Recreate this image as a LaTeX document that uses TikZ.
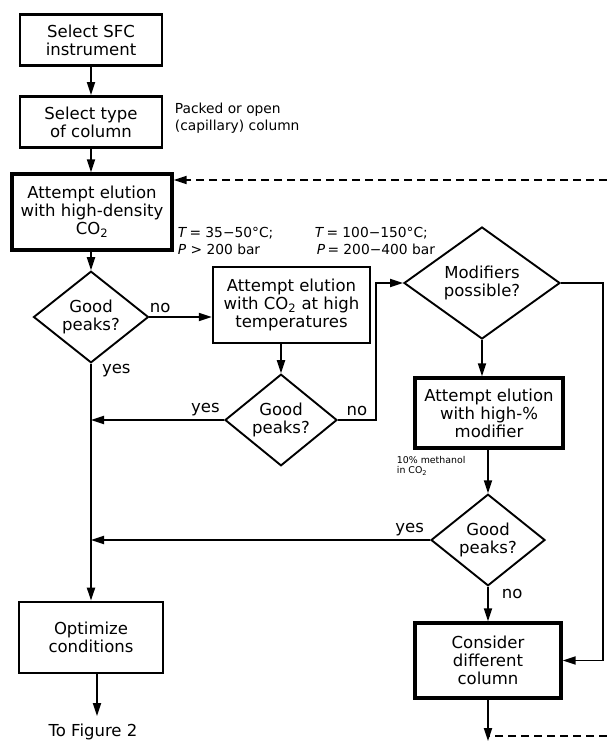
\documentclass[tikz,border=0pt]{standalone}
\usepackage{fontspec}
\setmainfont{DejaVu Sans}
\usetikzlibrary{arrows.meta,shapes.geometric}
\newcommand\boxfont{\fontsize{16.5}{18}\selectfont}
\newcommand\notefont{\fontsize{13.8}{16.5}\selectfont}
\newcommand\tinyfont{\fontsize{9.4}{10}\selectfont}
\begin{document}
\begin{tikzpicture}[x=1pt, y=-1pt, line width=1.8pt,
    >={Triangle[length=13pt,width=8pt]},
    box/.style={draw, line width=2.8pt, align=center, inner sep=1pt, font=\boxfont},
    thinbox/.style={box, line width=2.2pt},
    decision/.style={draw, diamond, line width=1.9pt, align=center, inner sep=0pt, font=\boxfont},
    note/.style={align=left, inner sep=1pt, font=\notefont},
    answer/.style={inner sep=3pt, font=\boxfont},
    loopline/.style={dash pattern=on 8pt off 5pt}]
    \useasboundingbox (0,0) rectangle (607,742);
    % left column
    \node[box, minimum width=142pt, minimum height=51pt] (A0_0) at (91,40) {Select SFC\\instrument};
    \node[box, minimum width=142pt, minimum height=51pt] (A1_0) at (91,122) {Select type\\of column};
    \node[box, line width=3.2pt, minimum width=160pt, minimum height=76pt] (A2_0) at (92,212) {Attempt elution\\with high-density\\CO\textsubscript{2}};
    \node[decision, minimum width=115pt, minimum height=80pt] (A3_0) at (91,317) {Good\\peaks?};
    \node[box, minimum width=144pt, minimum height=71pt] (A6_0) at (91,637.5) {Optimize\\conditions};
    \node[font=\boxfont, anchor=north, inner xsep=1pt, inner ysep=7pt] (A7_0) at (93,716) {To Figure 2};
    % middle column
    \node[thinbox, minimum width=157pt, minimum height=76pt] (A3_1) at (291.5,305) {Attempt elution\\with CO\textsubscript{2} at high\\temperatures};
    \node[decision, minimum width=112pt, minimum height=80pt] (A4_1) at (281,420) {Good\\peaks?};
    % right column
    \node[decision, minimum width=156pt, minimum height=112pt] (A3_2) at (482,283) {Modifiers\\possible?};
    \node[box, line width=3.2pt, minimum width=148pt, minimum height=70pt] (A4_2) at (489,413) {Attempt elution\\with high-\%\\modifier};
    \node[decision, minimum width=114pt, minimum height=80pt] (A5_2) at (488,540) {Good\\peaks?};
    \node[box, line width=3.2pt, minimum width=146pt, minimum height=75pt] (A6_2) at (488,660.5) {Consider\\different\\column};
    \coordinate (A7_2) at (488,741);
    % notes
    \node[note, anchor=west] (N1) at (173,118) {Packed or open\\(capillary) column};
    \node[note, anchor=west] (N2) at (176,241) {\textit{T}\,= 35−50°C;\\\textit{P} > 200 bar};
    \node[note, anchor=west] (N3) at (313,241) {\textit{T}\,= 100−150°C;\\\hspace{2pt}\textit{P}\,= 200−400 bar};
    \node[note, font=\tinyfont, anchor=west] (N4) at (395,466) {10\% methanol\\in CO\textsubscript{2}};
    % loop ends
    \coordinate (L0) at (607,180);
    \coordinate (L1) at (607,736);
    % connectors
    \path (A0_0) edge [->] (A1_0);
    \path (A1_0.south) edge [->] (A1_0.south |- A2_0.north);
    \path (L0) edge [->, loopline] (L0 -| A2_0.east);
    \path (A3_0.north |- A2_0.south) edge [->] (A3_0.north);
    \path (A3_0.east) edge [->] node [answer, above, pos=0.17] {no} (A3_0.east -| A3_1.west);
    \path (A3_0.south) edge [->, line width=2.1pt] node [answer, right=7pt, pos=0.03] {yes} (A6_0.north);
    \path (A4_1.north |- A3_1.south) edge [->] (A4_1.north);
    \path (A4_1.west) edge [->] node [answer, above, pos=0.14] {yes} (A4_1.west -| A3_0.south);
    \draw [->] (A4_1.east) -- ++(38,0) node [answer, above, pos=0.5] {no} |- (A3_2.west);
    \draw [->] (A3_2.east) -- ++(42,0) |- (A6_2.east);
    \path (A3_2.south) edge [->] (A3_2.south |- A4_2.north);
    \path (A5_2.north |- A4_2.south) edge [->] (A5_2.north);
    \path (A5_2.west) edge [->] node [answer, above, pos=0.06] {yes} (A5_2.west -| A3_0.south);
    \path (A5_2) edge [->] node [answer, right=10pt, pos=0.22] {no} (A6_2);
    \path (A6_2) edge [->] (A7_2);
    \path (L1) edge [loopline] (L1 -| A7_2);
    \path ([xshift=6pt]A6_0.south) edge [->] ([xshift=4pt]A7_0.north);
\end{tikzpicture}
\end{document}
